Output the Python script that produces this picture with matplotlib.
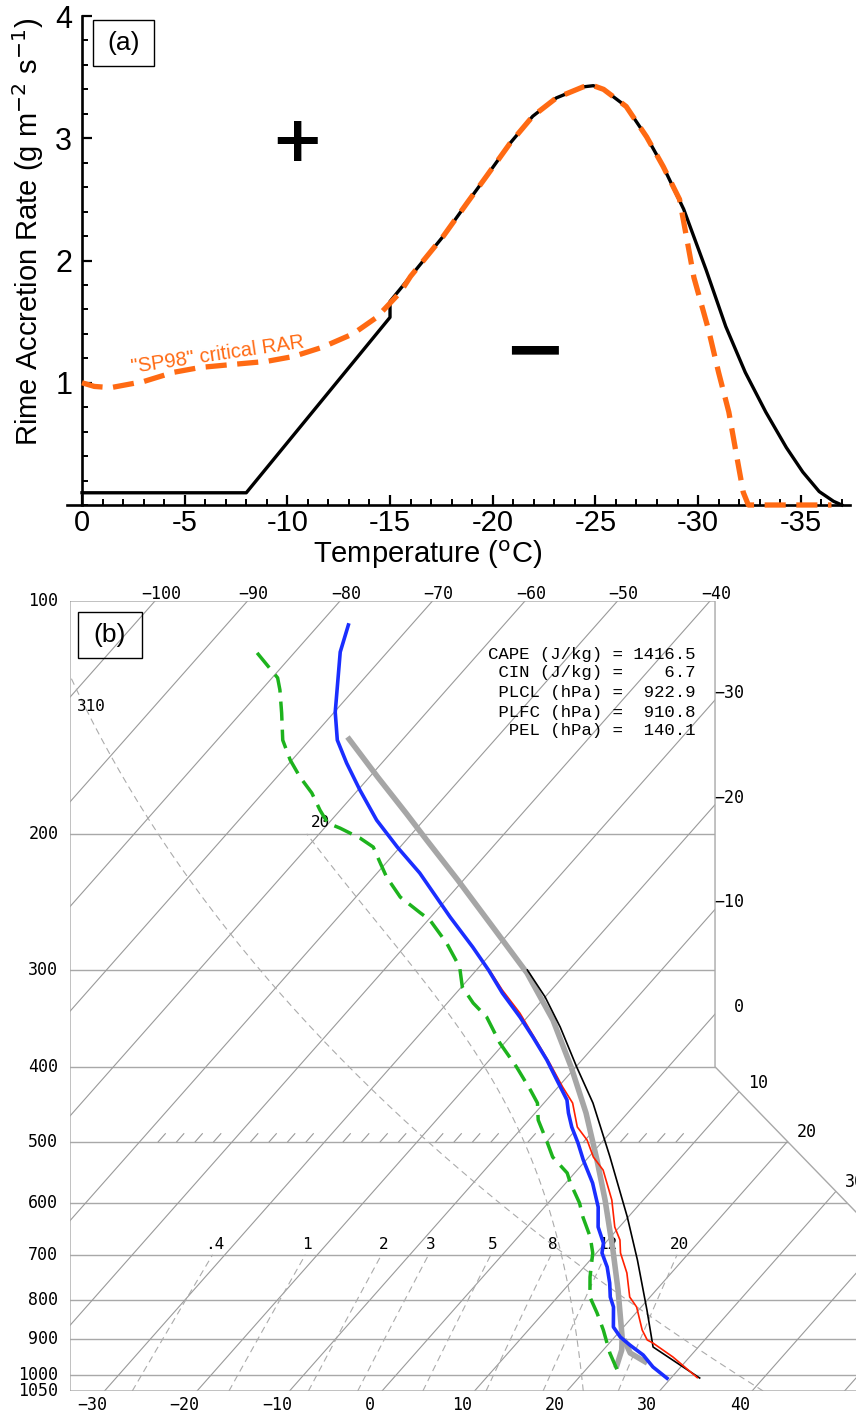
import numpy as np
import matplotlib
matplotlib.use("Agg")
import matplotlib.pyplot as plt
from matplotlib.patches import Polygon, Rectangle
from matplotlib.ticker import MultipleLocator, FixedLocator

# ---------------- Panel (a) data ----------------
rar_temp = [0.0, -8.0, -15.0, -15.0, -16.0, -17.6, -18.75, -19.7, -20.85, -21.95,
            -23.1, -24.4, -24.9, -25.4, -26.5, -27.5, -28.3, -29.3, -30.4, -31.35,
            -32.3, -33.3, -34.3, -35.1, -35.9, -36.6, -37.0]
rar_value = [0.10, 0.10, 1.535, 1.665, 1.87, 2.20, 2.47, 2.69, 2.96, 3.18,
             3.33, 3.42, 3.43, 3.40, 3.26, 3.01, 2.77, 2.42, 1.92, 1.46,
             1.085, 0.76, 0.47, 0.27, 0.11, 0.03, 0.0]
sp98_temp = [0.0, -0.6, -1.4, -3.0, -4.45, -5.75, -7.35, -9.0, -10.3, -11.7,
             -13.2, -14.35, -15.5, -16.0, -17.6, -18.75, -19.7, -20.85, -21.95, -23.1,
             -24.4, -24.9, -25.4, -26.5, -27.5, -28.3, -29.1, -29.8, -30.5, -31.0,
             -31.5, -31.85, -32.2, -32.45, -36.5]
sp98_value = [1.0, 0.97, 0.96, 1.01, 1.085, 1.125, 1.15, 1.175, 1.215, 1.29,
              1.40, 1.535, 1.74, 1.87, 2.20, 2.47, 2.69, 2.96, 3.18, 3.33,
              3.42, 3.43, 3.40, 3.26, 3.01, 2.77, 2.50, 1.86, 1.44, 1.085,
              0.76, 0.43, 0.105, 0.0, 0.0]
a_xticks = [0, -5, -10, -15, -20, -25, -30, -35]
a_yticks = [1, 2, 3, 4]

# ---------------- Panel (b) data (pressure hPa, temperature degC) ----------------
blue_p = [107.4, 116.4, 139.2, 151.3, 162.0, 175.5, 192.0, 208.0, 224.7, 256.2, 280.1,
          299.9, 321.2, 345.0, 366.1, 392.0, 416.1, 441.6, 459.0, 478.6, 501.9, 528.0,
          565.4, 607.3, 644.5, 675.9, 696.3, 726.0, 761.4, 793.8, 817.7, 867.9, 894.1,
          915.7, 943.4, 977.6, 1011.0]
blue_t = [-76.8, -75.1, -69.9, -67.0, -63.8, -59.8, -55.1, -50.3, -45.4, -37.9, -32.6,
          -28.7, -25.0, -20.8, -17.5, -13.8, -10.8, -7.8, -6.4, -4.7, -2.5, -0.3,
          2.9, 5.8, 7.7, 9.8, 10.6, 12.5, 14.3, 15.7, 17.0, 18.9, 20.6,
          22.4, 24.8, 27.0, 29.6]
red_p = [299.9, 318.3, 340.9, 395.6, 424.9, 445.6, 478.6, 497.5, 523.3, 544.0, 594.7,
         644.5, 669.9, 696.3, 739.0, 793.8, 817.7, 875.7, 902.1, 910.2, 948.9, 1009.0]
red_t = [-28.6, -25.3, -21.2, -13.2, -9.5, -6.9, -4.1, -1.8, 0.5, 2.8, 6.6,
         9.5, 11.3, 12.6, 15.2, 17.8, 19.5, 22.3, 23.8, 24.7, 28.2, 32.8]
black_p = [299.9, 325.0, 355.4, 400.3, 445.6, 523.3, 625.6, 711.0, 825.0, 921.1, 1010.2]
black_t = [-24.5, -20.0, -15.5, -9.9, -4.7, 2.3, 9.9, 15.1, 20.9, 25.1, 33.1]
gray_p = [149.9, 168.9, 188.0, 203.7, 229.5, 266.3, 302.6, 348.1, 400.3, 459.0, 528.0,
          594.7, 690.2, 777.4, 894.1, 929.4, 966.1, 980.5]
gray_t = [-66.2, -59.1, -52.6, -47.8, -40.6, -31.8, -24.25, -16.95, -10.5, -4.5, 1.18,
          5.87, 11.5, 15.87, 20.8, 22.0, 22.8, 23.1]
gray_branch_p = [900.0, 937.7, 966.1]
gray_branch_t = [21.2, 23.2, 26.0]
dew_p = [116.7, 125.7, 130.3, 139.6, 151.3, 160.5, 168.9, 177.1, 186.3, 193.7, 196.6,
         202.5, 208.0, 218.2, 227.4, 241.4, 253.1, 258.5, 276.8, 297.3, 315.5, 330.9,
         345.0, 372.7, 400.3, 428.7, 445.6, 468.7, 501.9, 523.3, 548.8, 565.4, 600.1,
         625.6, 663.9, 696.3, 747.9, 793.8, 832.5, 875.7, 937.7, 992.3]
dew_t = [-84.0, -79.4, -78.0, -75.6, -72.9, -70.2, -67.5, -64.7, -62.2, -60.1, -58.3,
         -55.2, -52.9, -50.6, -48.6, -45.2, -41.5, -39.8, -35.8, -32.1, -29.9, -27.2,
         -24.4, -20.5, -16.4, -12.7, -10.7, -9.0, -5.8, -3.9, -0.8, 0.5, 3.4,
         5.1, 7.8, 9.6, 11.6, 13.5, 15.8, 18.1, 21.0, 23.7]

isobars = [100, 200, 300, 400, 500, 600, 700, 800, 900, 1000, 1050]
top_isotherms = [-100, -90, -80, -70, -60, -50, -40]
bottom_isotherms = [-30, -20, -10, 0, 10, 20, 30, 40]
right_isotherms = [-30, -20, -10, 0]
diag_isotherms = [10, 20, 30]
mix_ratios = [0.4, 1, 2, 3, 5, 8, 12, 20]
mix_labels = [".4", "1", "2", "3", "5", "8", "12", "20"]
dry_thetas = [310]
moist_thetas = [20]
stats_lines = ["CAPE (J/kg) = 1416.5",
               " CIN (J/kg) =    6.7",
               " PLCL (hPa) =  922.9",
               " PLFC (hPa) =  910.8",
               "  PEL (hPa) =  140.1"]

# ---------------- figure ----------------
W, H = 856, 1415
fig = plt.figure(figsize=(W / 100, H / 100), dpi=100)


def fx(x):
    return x / W


def fy(y):
    return 1 - y / H


SANS = ["Liberation Sans", "DejaVu Sans"]
MONO = ["DejaVu Sans Mono"]
COUR = ["Liberation Mono", "DejaVu Sans Mono"]

# ================= Panel (a) =================
ax = fig.add_axes([fx(67), fy(505), 783 / W, 489 / H])
ax.plot(rar_temp, rar_value, color="black", lw=2.4, zorder=3, clip_on=False,
        solid_joinstyle="round")
ln, = ax.plot(sp98_temp, sp98_value, color="#FF6A13", lw=3.8, zorder=4, clip_on=False)
ln.set_dashes([4.0, 2.0])
ln.set_dash_capstyle("butt")
ax.set_xlim(0.73, -37.4)
ax.set_ylim(0, 4)
ax.spines["top"].set_visible(False)
ax.spines["right"].set_visible(False)
ax.spines["left"].set_position(("data", 0))
for s in ("left", "bottom"):
    ax.spines[s].set_linewidth(1.9)
ax.xaxis.set_major_locator(FixedLocator(a_xticks))
ax.xaxis.set_minor_locator(MultipleLocator(1))
ax.yaxis.set_major_locator(FixedLocator(a_yticks))
ax.yaxis.set_minor_locator(MultipleLocator(0.2))
ax.set_xticklabels([str(v) for v in a_xticks], family=SANS, fontsize=21)
ax.set_yticklabels([str(v) for v in a_yticks], family=SANS, fontsize=22)
ax.tick_params(axis="both", which="major", direction="in", length=7, width=1.6)
ax.tick_params(axis="both", which="minor", direction="in", length=4.5, width=1.4)
ax.tick_params(axis="x", which="major", pad=3)
ax.tick_params(axis="y", which="major", pad=7)
ax.patch.set_visible(False)

ax.text(-10.47, 2.96, "+", family=["DejaVu Sans"], weight="bold", fontsize=46,
        ha="center", va="center")
ax.text(-22.05, 1.243, "\u2212", family=["DejaVu Sans"], weight="bold", fontsize=54,
        ha="center", va="center")
ax.text(-6.6, 1.23, '"SP98" critical RAR', color="#FF6A13", family=SANS,
        fontsize=14.5, rotation=8.4, ha="center", va="center", rotation_mode="anchor")

fig.patches.append(Rectangle((fx(93), fy(66)), fx(154) - fx(93), fy(20) - fy(66),
                             transform=fig.transFigure, fill=False, lw=1.0,
                             edgecolor="black"))
fig.text(fx(123.5), fy(43), "(a)", family=SANS, fontsize=19, ha="center", va="center")
fig.text(fx(28), fy(232), "Rime Accretion Rate (g m$^{-2}$ s$^{-1}$)", family=SANS,
         fontsize=21, rotation=90, ha="center", va="center")
fig.text(fx(428), fy(539), "Temperature ($^{\\rm o}$C)", family=SANS, fontsize=21,
         ha="center", va="top")

# ================= Panel (b) : skew-T =================
P_BOT = 1050.0
SKEW = 32.09          # degC of x-shift per unit ln(p)
B_LEFT, B_RIGHT = -33.73, 51.24
BOX_RIGHT = 36.0
DIAG_K = 35.24


def skx(t, p):
    return np.asarray(t, dtype=float) + SKEW * np.log(P_BOT / np.asarray(p, dtype=float))


axb = fig.add_axes([fx(70), fy(1391), 786 / W, 790 / H])
axb.set_yscale("log")
axb.set_xlim(B_LEFT, B_RIGHT)
axb.set_ylim(1050, 100)
axb.axis("off")

frame = [(B_LEFT, 100), (BOX_RIGHT, 100), (BOX_RIGHT, 400),
         (BOX_RIGHT + DIAG_K * np.log(1050 / 400.0), 1050), (B_LEFT, 1050)]
clip = Polygon(frame, closed=True, transform=axb.transData)
FRAME_C = "#A8A8A8"
LINE_C = "#9A9A9A"
DASH_C = "#ABABAB"
axb.add_patch(Polygon(frame, closed=True, fill=False, edgecolor=FRAME_C, lw=1.0, zorder=2))

# isobars
for p in isobars[1:-1]:
    l, = axb.plot([B_LEFT, 80], [p, p], color=FRAME_C, lw=1.0, zorder=1)
    l.set_clip_path(clip)
# isotherms
for t in range(-120, 80, 10):
    l, = axb.plot(skx([t, t], [1050, 100]), [1050, 100], color=LINE_C, lw=0.8, zorder=1)
    l.set_clip_path(clip)
# short isotherm ticks along 500 hPa
for t in range(-48, 9, 2):
    if t % 10 == 0:
        continue
    axb.plot(skx([t, t], [500, 488.2]), [500, 488.2], color=LINE_C, lw=0.8, zorder=1)


# mixing ratio lines
def t_from_w(w, p):
    e = w * np.asarray(p) / (622.0 + w)
    a = np.log(e / 6.112)
    return 243.5 * a / (17.67 - a)


pm = np.geomspace(1050, 700, 30)
for w, lab in zip(mix_ratios, mix_labels):
    l, = axb.plot(skx(t_from_w(w, pm), pm), pm, color=DASH_C, lw=0.8, ls=(0, (6, 4)),
                  zorder=1)
    l.set_clip_path(clip)
    axb.annotate(lab, xy=(skx(t_from_w(w, 700), 700), 700), xytext=(2, 10),
                 textcoords="offset pixels", ha="center", va="center",
                 family=MONO, fontsize=11.5)

# dry adiabats
pd = np.geomspace(1050, 100, 200)
for th in dry_thetas:
    td = th * (pd / 1000.0) ** 0.2857 - 273.15
    l, = axb.plot(skx(td, pd), pd, color=DASH_C, lw=0.8, ls=(0, (6, 4)), zorder=1)
    l.set_clip_path(clip)
axb.text(-31.4, 137.0, "310", family=MONO, fontsize=11.5, ha="center", va="center")


# moist adiabats (pseudo-adiabatic integration from 1000 hPa)
def moist_profile(t0c, ps):
    Rd, cp, Lv, eps = 287.04, 1005.7, 2.501e6, 0.622

    def f(T, p):
        tc = T - 273.15
        es = 6.112 * np.exp(17.67 * tc / (tc + 243.5))
        rs = eps * es / (p - es)
        return (Rd * T + Lv * rs) / (p * (cp + Lv * Lv * rs * eps / (Rd * T * T)))

    out = []
    for ptarget in ps:
        T = t0c + 273.15
        p = 1000.0
        n = 200
        dp = (ptarget - p) / n
        for _ in range(n):
            k1 = f(T, p)
            k2 = f(T + 0.5 * dp * k1, p + 0.5 * dp)
            k3 = f(T + 0.5 * dp * k2, p + 0.5 * dp)
            k4 = f(T + dp * k3, p + dp)
            T += dp * (k1 + 2 * k2 + 2 * k3 + k4) / 6
            p += dp
        out.append(T - 273.15)
    return np.array(out)


pmst = np.geomspace(1050, 200, 60)
for tw in moist_thetas:
    tmst = moist_profile(tw, pmst)
    l, = axb.plot(skx(tmst, pmst), pmst, color=DASH_C, lw=0.8, ls=(0, (6, 4)), zorder=1)
    l.set_clip_path(clip)
axb.text(-6.7, 193.6, "20", family=MONO, fontsize=11.5, ha="center", va="center")

# ---- labels ----
for p in isobars:
    axb.text(-35.0, p, str(p), ha="right", va="center", family=MONO, fontsize=12,
             clip_on=False)
pt = 100 * np.exp(-7 / 336.0)
for t in top_isotherms:
    axb.text(float(skx(t, pt)), pt, "\u2212%d" % abs(t), ha="center", va="center",
             family=MONO, fontsize=12, clip_on=False)
pbt = 1050 * np.exp(14 / 336.0)
for t in bottom_isotherms:
    lab = ("\u2212%d" % abs(t)) if t < 0 else str(t)
    axb.text(float(skx(t, pbt)), pbt, lab, ha="center", va="center",
             family=MONO, fontsize=12, clip_on=False)
for t in right_isotherms:
    pmeet = P_BOT * np.exp(-(BOX_RIGHT - t) / SKEW)
    lab = ("\u2212%d" % abs(t)) if t < 0 else str(t)
    axb.annotate(lab, xy=(BOX_RIGHT, pmeet), xytext=(29, 7), textcoords="offset pixels",
                 ha="right", va="center", family=MONO, fontsize=12, annotation_clip=False)
for t in diag_isotherms:
    u = (t + SKEW * np.log(P_BOT) - BOX_RIGHT + DIAG_K * np.log(400.0)) / (SKEW + DIAG_K)
    pmeet = np.exp(u)
    axb.annotate(str(t), xy=(float(skx(t, pmeet)), pmeet), xytext=(9, 9),
                 textcoords="offset pixels", ha="left", va="center", family=MONO,
                 fontsize=12, annotation_clip=False)

# ---- sounding curves ----
axb.plot(skx(gray_t, gray_p), gray_p, color="#A6A6A6", lw=4.0, zorder=3,
         solid_capstyle="butt")
axb.plot(skx(gray_branch_t, gray_branch_p), gray_branch_p, color="#A6A6A6", lw=4.0,
         zorder=3, solid_capstyle="butt")
axb.plot(skx(black_t, black_p), black_p, color="black", lw=1.2, zorder=4)
axb.plot(skx(red_t, red_p), red_p, color="#FF2000", lw=1.2, zorder=4)
gl, = axb.plot(skx(dew_t, dew_p), dew_p, color="#1DB31D", lw=2.5, zorder=5)
gl.set_dashes([5.5, 2.6])
gl.set_dash_capstyle("butt")
axb.plot(skx(blue_t, blue_p), blue_p, color="#1A2EFF", lw=2.6, zorder=6)

# stats text
for s, yy in zip(stats_lines, [655, 673, 692, 712, 731]):
    fig.text(fx(695), fy(yy), s, family=COUR, fontsize=12.5, ha="right", va="center")

fig.patches.append(Rectangle((fx(78), fy(658)), fx(142) - fx(78), fy(612) - fy(658),
                             transform=fig.transFigure, fill=False, lw=1.0,
                             edgecolor="black"))
fig.text(fx(110), fy(635), "(b)", family=SANS, fontsize=19, ha="center", va="center")

fig.savefig("out.png", dpi=100)
